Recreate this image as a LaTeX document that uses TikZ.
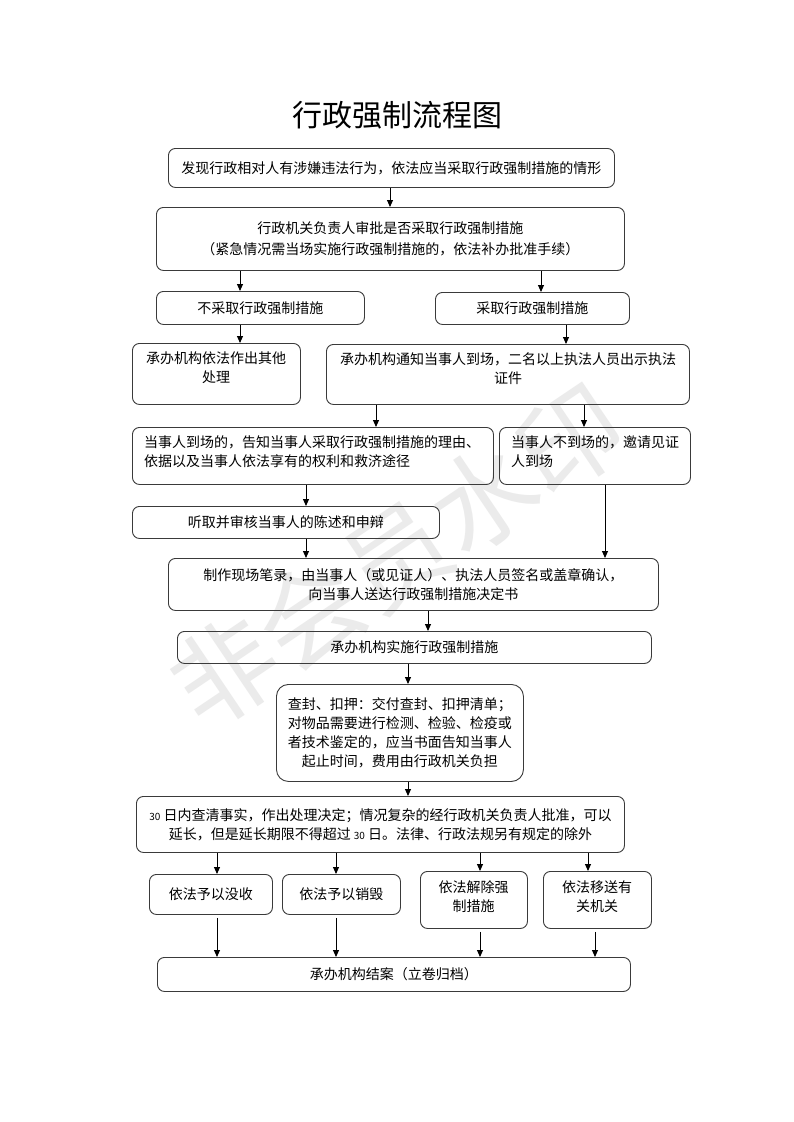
\documentclass[tikz,border=0pt]{standalone}
\usepackage{fontspec}
\setmainfont{Noto Sans CJK SC}
\usetikzlibrary{arrows.meta}
\definecolor{bx}{HTML}{3A3A3A}
\definecolor{wm}{HTML}{EBEBEB}
\newcommand\mybodyfont{\fontsize{14}{19}\selectfont}
\newcommand\mysmallnum[1]{{\fontsize{10}{10}\selectfont #1}}
\begin{document}
\begin{tikzpicture}[x=1pt,y=-1pt,
  box/.style={draw=bx, line width=0.9pt, rounded corners=7pt, inner sep=0pt,
    anchor=north west, align=center, font=\mybodyfont},
  txt/.style={inner sep=0pt, align=center, font=\mybodyfont},
  ltxt/.style={inner sep=0pt, align=left, anchor=west, font=\mybodyfont},
  arr/.style={draw=black, line width=0.9pt, -{Triangle[length=7pt,width=6pt]}},
  arrg/.style={arr, shorten <=3pt}]
\fill[white] (0,0) rectangle (793,1122);
\useasboundingbox (0,0) rectangle (793,1122);
% watermark
\node[text=wm, rotate=34, inner sep=0pt, font=\fontsize{104}{104}\selectfont] (wmk) at (397,556) {非会员水印};
% title
\node[inner sep=0pt, font=\fontsize{30}{30}\selectfont] (title) at (397,115) {行政强制流程图};
% boxes
\node[box, minimum width=446pt, minimum height=39pt] (b1) at (168,148) {发现行政相对人有涉嫌违法行为，依法应当采取行政强制措施的情形};
\node[box, minimum width=468pt, minimum height=63pt, font=\fontsize{14}{21}\selectfont] (b2) at (156,207) {行政机关负责人审批是否采取行政强制措施\\（紧急情况需当场实施行政强制措施的，依法补办批准手续）};
\node[box, minimum width=208pt, minimum height=33pt] (b3) at (156,291) {不采取行政强制措施};
\node[box, minimum width=194pt, minimum height=32pt] (b4) at (435,292) {采取行政强制措施};
\node[box, minimum width=168pt, minimum height=61pt] (b5) at (132,343) {};
\node[txt] (t5) at (216,367.5) {承办机构依法作出其他\\处理};
\node[box, minimum width=363pt, minimum height=60pt] (b6) at (326,344) {};
\node[txt] (t6) at (508,369) {承办机构通知当事人到场，二名以上执法人员出示执法\\证件};
\node[box, minimum width=361pt, minimum height=57pt] (b7) at (132,427) {};
\node[ltxt] (t7) at (144,452) {当事人到场的，告知当事人采取行政强制措施的理由、\\依据以及当事人依法享有的权利和救济途径};
\node[box, minimum width=191pt, minimum height=57pt] (b8) at (499,427) {};
\node[ltxt] (t8) at (511,452) {当事人不到场的，邀请见证\\人到场};
\node[box, minimum width=307pt, minimum height=32pt] (b9) at (132,506) {听取并审核当事人的陈述和申辩};
\node[box, minimum width=490pt, minimum height=52pt] (b10) at (168,558) {制作现场笔录，由当事人（或见证人）、执法人员签名或盖章确认，\\向当事人送达行政强制措施决定书};
\node[box, minimum width=474pt, minimum height=32pt] (b11) at (177,631) {承办机构实施行政强制措施};
\node[box, rounded corners=12pt, minimum width=247pt, minimum height=97pt] (b12) at (276,684) {查封、扣押：交付查封、扣押清单；\\对物品需要进行检测、检验、检疫或\\者技术鉴定的，应当书面告知当事人\\起止时间，费用由行政机关负担};
\node[box, minimum width=488pt, minimum height=56pt] (b13) at (136,796) {\mysmallnum{30} 日内查清事实，作出处理决定；情况复杂的经行政机关负责人批准，可以\\延长，但是延长期限不得超过 \mysmallnum{30} 日。法律、行政法规另有规定的除外};
\node[box, minimum width=123pt, minimum height=40pt] (b14) at (149,874) {依法予以没收};
\node[box, minimum width=118pt, minimum height=40pt] (b15) at (282,874) {依法予以销毁};
\node[box, minimum width=107pt, minimum height=57pt] (b16) at (420,871) {};
\node[txt] (t16) at (473.5,897) {依法解除强\\制措施};
\node[box, minimum width=108pt, minimum height=57pt] (b17) at (543,871) {};
\node[txt] (t17) at (597,897) {依法移送有\\关机关};
\node[box, minimum width=473pt, minimum height=34pt] (b18) at (157,957) {承办机构结案（立卷归档）};
% x positions of connectors
\coordinate (xa) at (390,0);
\coordinate (xb) at (240,0);
\coordinate (xc) at (541,0);
\coordinate (xd) at (566,0);
\coordinate (xe) at (376,0);
\coordinate (xf) at (584,0);
\coordinate (xg) at (306,0);
\coordinate (xh) at (605,0);
\coordinate (xi) at (428,0);
\coordinate (xj) at (408,0);
\coordinate (xk) at (217,0);
\coordinate (xl) at (336,0);
\coordinate (xm) at (480,0);
\coordinate (xn) at (588,0);
\coordinate (xo) at (595,0);
% connectors
\draw[arr] (b1.south -| xa) -- (b2.north -| xa);
\draw[arr] (b2.south -| xb) -- (b3.north -| xb);
\draw[arr] (b2.south -| xc) -- (b4.north -| xc);
\draw[arr] (b3.south -| xb) -- (b5.north -| xb);
\draw[arr] (b4.south -| xd) -- (b6.north -| xd);
\draw[arr] (b6.south -| xe) -- (b7.north -| xe);
\draw[arr] (b6.south -| xf) -- (b8.north -| xf);
\draw[arr] (b7.south -| xg) -- (b9.north -| xg);
\draw[arr] (b8.south -| xh) -- (b10.north -| xh);
\draw[arr] (b9.south -| xg) -- (b10.north -| xg);
\draw[arr] (b10.south -| xi) -- (b11.north -| xi);
\draw[arr] (b11.south -| xj) -- (b12.north -| xj);
\draw[arr] (b12.south -| xj) -- (b13.north -| xj);
\draw[arr] (b13.south -| xk) -- (b14.north -| xk);
\draw[arr] (b13.south -| xl) -- (b15.north -| xl);
\draw[arr] (b13.south -| xm) -- (b16.north -| xm);
\draw[arr] (b13.south -| xn) -- (b17.north -| xn);
\draw[arrg] (b14.south -| xk) -- (b18.north -| xk);
\draw[arrg] (b15.south -| xl) -- (b18.north -| xl);
\draw[arrg] (b16.south -| xm) -- (b18.north -| xm);
\draw[arrg] (b17.south -| xo) -- (b18.north -| xo);
\end{tikzpicture}
\end{document}
